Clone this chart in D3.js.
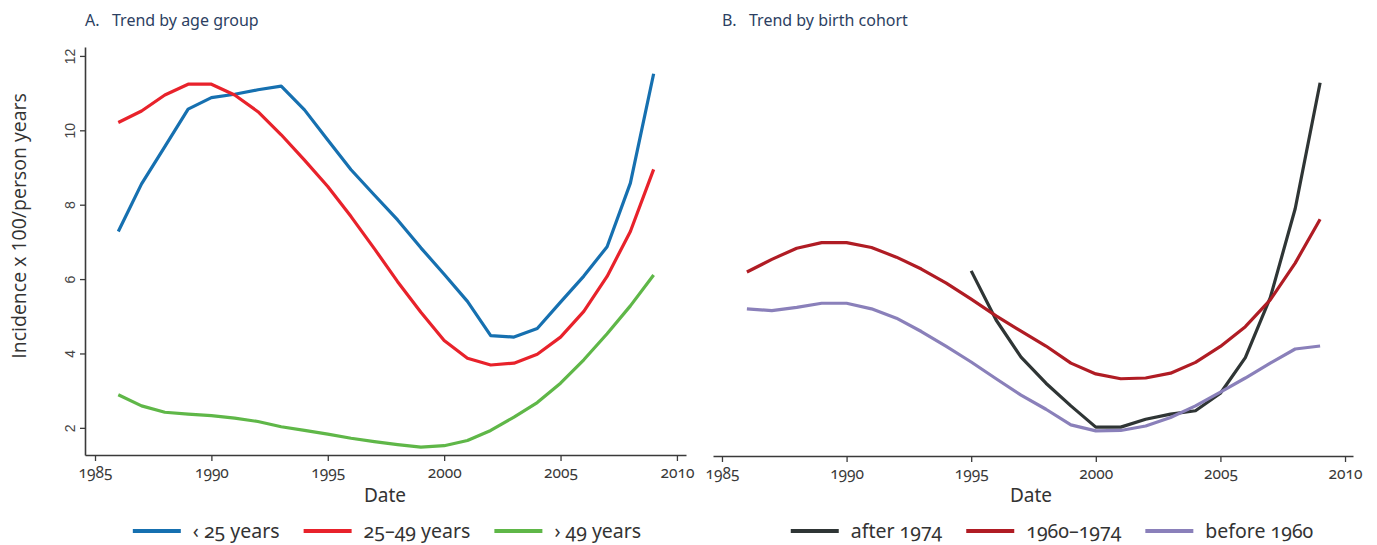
<!DOCTYPE html>
<html>
<head>
<meta charset="utf-8">
<script src="https://cdn.jsdelivr.net/npm/d3@7"></script>
<style>
  html, body { margin: 0; padding: 0; background: #fff; }
  svg { display: block; }
  .num { font-family: "Noto Sans", "Open Sans", sans-serif; font-feature-settings: "onum" 1; font-variant-numeric: oldstyle-nums; }
</style>
</head>
<body>
<svg id="chart" width="1377" height="545"></svg>
<script>
// ---- Data ----
const yearsA = d3.range(1986, 2010);
const under25 = [7.28, 8.56, 9.56, 10.57, 10.88, 10.97, 11.09, 11.19, 10.55, 9.74, 8.94, 8.26, 7.59, 6.84, 6.13, 5.40, 4.48, 4.44, 4.67, 5.38, 6.08, 6.87, 8.58, 11.52];
const age25to49 = [10.21, 10.52, 10.95, 11.24, 11.24, 10.95, 10.50, 9.88, 9.20, 8.49, 7.68, 6.82, 5.93, 5.11, 4.35, 3.87, 3.69, 3.74, 3.98, 4.44, 5.13, 6.07, 7.28, 8.95];
const over49 = [2.89, 2.59, 2.42, 2.37, 2.33, 2.26, 2.17, 2.03, 1.93, 1.83, 1.72, 1.63, 1.55, 1.48, 1.52, 1.66, 1.93, 2.29, 2.68, 3.20, 3.83, 4.53, 5.28, 6.11];

const yearsAfter1974 = d3.range(1995, 2010);
const after1974 = [6.22, 4.90, 3.90, 3.20, 2.59, 2.02, 2.02, 2.23, 2.37, 2.46, 2.93, 3.89, 5.50, 7.89, 11.28];
const yearsB = d3.range(1986, 2010);
const cohort1960to1974 = [6.19, 6.53, 6.83, 6.98, 6.98, 6.85, 6.59, 6.27, 5.89, 5.46, 5.01, 4.60, 4.20, 3.74, 3.45, 3.32, 3.34, 3.47, 3.76, 4.19, 4.72, 5.44, 6.43, 7.61];
const before1960 = [5.20, 5.15, 5.24, 5.35, 5.35, 5.20, 4.95, 4.59, 4.19, 3.77, 3.32, 2.88, 2.50, 2.08, 1.92, 1.93, 2.05, 2.28, 2.59, 2.96, 3.34, 3.74, 4.12, 4.20];

const xTicks = [1985, 1990, 1995, 2000, 2005, 2010];
const yTicks = [2, 4, 6, 8, 10, 12];
const seriesA = [
  { name: "‹ 25 years", years: yearsA, values: under25, color: "#1670b0" },
  { name: "25–49 years", years: yearsA, values: age25to49, color: "#e8222b" },
  { name: "› 49 years", years: yearsA, values: over49, color: "#5fb748" }
];
const seriesB = [
  { name: "after 1974", years: yearsAfter1974, values: after1974, color: "#2f3535" },
  { name: "1960–1974", years: yearsB, values: cohort1960to1974, color: "#b01c24" },
  { name: "before 1960", years: yearsB, values: before1960, color: "#8a80ba" }
];

// ---- Layout ----
const svg = d3.select("#chart");
const axisColor = "#3a3a3a";
const yScale = d3.scaleLinear().domain([1.27, 12.24]).range([455, 47]);

function panel(opts) {
  const g = svg.append("g");
  const x = d3.scaleLinear().domain(opts.xDomain).range(opts.xRange);

  // title
  g.append("text")
    .attr("x", opts.titleX).attr("y", 26)
    .attr("font-family", "Noto Sans, Open Sans, sans-serif")
    .attr("font-size", 16).attr("fill", "#2c3f62")
    .attr("xml:space", "preserve")
    .text(opts.title);

  // x axis
  const xa = g.append("g").attr("transform", `translate(0,${opts.axisY})`)
    .call(d3.axisBottom(x).tickValues(xTicks).tickFormat(d3.format("d")).tickSize(6).tickSizeOuter(0));
  xa.select(".domain").attr("stroke", axisColor).attr("stroke-width", 1.6);
  xa.selectAll(".tick line").attr("stroke", axisColor).attr("stroke-width", 1.3);
  xa.selectAll(".tick text").attr("class", "num").attr("font-size", 15.5).attr("fill", "#3a3a3a").attr("dy", "0.9em");

  g.append("text")
    .attr("x", opts.dateX).attr("y", 502)
    .attr("text-anchor", "middle")
    .attr("font-family", "Noto Sans, Open Sans, sans-serif")
    .attr("font-size", 19).attr("fill", "#333")
    .text("Date");

  if (opts.yAxis) {
    const ya = g.append("g").attr("transform", `translate(${opts.xRange[0]},0)`)
      .call(d3.axisLeft(yScale).tickValues(yTicks).tickSize(5).tickSizeOuter(0));
    ya.select(".domain").attr("stroke", axisColor).attr("stroke-width", 1.6);
    ya.selectAll(".tick line").attr("stroke", axisColor).attr("stroke-width", 1.3);
    ya.selectAll(".tick text")
      .attr("font-family", "Liberation Sans, Arial, sans-serif")
      .attr("font-size", 14).attr("fill", "#444")
      .attr("x", null).attr("dy", null)
      .attr("text-anchor", "middle")
      .attr("transform", "translate(-10,0) rotate(-90)")
      .attr("y", 0);
    g.append("text")
      .attr("transform", `translate(26,226) rotate(-90)`)
      .attr("text-anchor", "middle")
      .attr("font-family", "Open Sans, Noto Sans, sans-serif")
      .attr("font-size", 19.5).attr("fill", "#333")
      .text("Incidence x 100/person years");
  }

  const line = d3.line().x(d => x(d[0])).y(d => yScale(d[1]));
  opts.series.forEach(s => {
    g.append("path")
      .datum(s.years.map((yr, i) => [yr, s.values[i]]))
      .attr("fill", "none").attr("stroke", s.color)
      .attr("stroke-width", 3.2).attr("stroke-linejoin", "round")
      .attr("d", line);
  });

  // legend
  const lg = g.append("g");
  let cx = 0;
  opts.series.forEach((s, i) => {
    const it = lg.append("g");
    it.append("line").attr("x1", 0).attr("x2", 48).attr("y1", 0).attr("y2", 0)
      .attr("stroke", s.color).attr("stroke-width", 4);
    const t = it.append("text").attr("class", "num").attr("x", 60).attr("y", 7)
      .attr("font-size", 19.5).attr("fill", "#333").text(s.name);
    const w = 60 + t.node().getComputedTextLength();
    it.attr("transform", `translate(${cx},0)`);
    cx += w + 24;
  });
  const total = cx - 24;
  lg.attr("transform", `translate(${opts.legendCenter - total / 2},531)`);
}

panel({
  title: "A.   Trend by age group", titleX: 85,
  xDomain: [1984.57, 2010.39], xRange: [85, 686], axisY: 455,
  dateX: 385, yAxis: true, series: seriesA, legendCenter: 387
});
panel({
  title: "B.   Trend by birth cohort", titleX: 722,
  xDomain: [1984.64, 2010.32], xRange: [713, 1353], axisY: 456,
  dateX: 1031, yAxis: false, series: seriesB, legendCenter: 1052
});
</script>
</body>
</html>
